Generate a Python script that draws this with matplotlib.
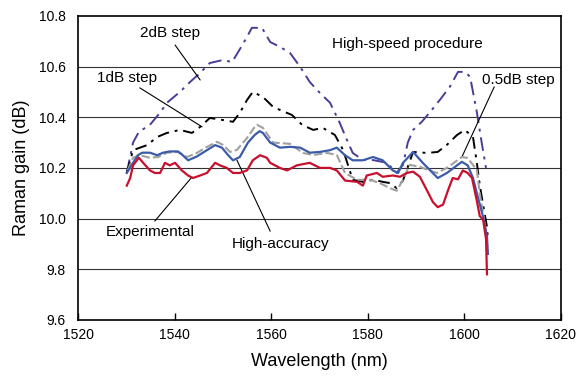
import matplotlib
matplotlib.use("Agg")
import matplotlib.pyplot as plt

plt.rcParams["font.family"] = ["Liberation Sans", "DejaVu Sans"]

# Experimental
EXP_WL = [1530.1, 1530.8, 1531.4, 1532.6, 1533.5, 1534.9, 1535.9, 1537.0, 1538.0, 1539.0,
          1540.1, 1541.5, 1542.8, 1543.8, 1545.3, 1546.7, 1548.4, 1549.4, 1550.8, 1552.1,
          1553.5, 1555.0, 1556.2, 1557.7, 1559.1, 1559.8, 1561.8, 1563.3, 1565.3, 1568.0,
          1570.1, 1572.2, 1573.6, 1575.3, 1577.8, 1579.0, 1579.8, 1581.9, 1583.1, 1585.2,
          1586.7, 1588.1, 1589.4, 1590.8, 1592.3, 1593.5, 1594.5, 1595.6, 1596.6, 1597.6,
          1598.7, 1599.7, 1600.7, 1601.6, 1602.6, 1603.2, 1603.9, 1604.5, 1604.7]
EXP_GAIN = [10.13, 10.16, 10.21, 10.24, 10.22, 10.19, 10.18, 10.18, 10.22, 10.21,
            10.22, 10.19, 10.17, 10.16, 10.17, 10.18, 10.22, 10.21, 10.20, 10.18,
            10.18, 10.19, 10.23, 10.25, 10.24, 10.22, 10.20, 10.19, 10.21, 10.22,
            10.20, 10.20, 10.19, 10.15, 10.145, 10.13, 10.17, 10.18, 10.165, 10.17,
            10.165, 10.18, 10.185, 10.165, 10.11, 10.065, 10.045, 10.055, 10.11, 10.16,
            10.155, 10.19, 10.18, 10.16, 10.07, 10.01, 9.995, 9.92, 9.78]

# High-accuracy
HA_WL = [1530.1, 1531.4, 1532.4, 1533.3, 1534.9, 1536.4, 1537.6, 1539.0, 1540.7, 1541.7,
         1542.8, 1544.6, 1546.7, 1548.4, 1549.8, 1551.1, 1552.1, 1553.5, 1555.2, 1556.6,
         1557.6, 1558.3, 1559.8, 1561.8, 1563.9, 1566.0, 1568.0, 1570.1, 1572.2, 1573.6,
         1575.3, 1576.9, 1579.0, 1581.1, 1583.1, 1585.2, 1586.3, 1587.3, 1589.4, 1591.4,
         1594.5, 1596.4, 1598.5, 1599.5, 1600.7, 1601.8, 1602.8, 1603.9, 1604.7, 1604.9]
HA_GAIN = [10.18, 10.22, 10.25, 10.26, 10.26, 10.25, 10.26, 10.265, 10.265, 10.25,
           10.23, 10.245, 10.27, 10.29, 10.28, 10.25, 10.23, 10.243, 10.30, 10.33,
           10.345, 10.338, 10.30, 10.28, 10.283, 10.28, 10.26, 10.263, 10.27, 10.28,
           10.25, 10.23, 10.23, 10.243, 10.23, 10.19, 10.18, 10.22, 10.263, 10.22,
           10.16, 10.18, 10.21, 10.224, 10.21, 10.16, 10.085, 10.006, 9.93, 9.86]

# 0.5dB step
S05_WL = [1530.3, 1531.4, 1532.8, 1534.9, 1536.6, 1538.4, 1540.7, 1542.6, 1544.6, 1546.7,
          1548.8, 1550.0, 1551.5, 1552.9, 1555.0, 1556.6, 1557.1, 1558.3, 1560.4, 1563.9,
          1566.6, 1568.7, 1571.6, 1573.6, 1575.3, 1577.8, 1580.5, 1582.5, 1584.6, 1586.0,
          1587.3, 1588.7, 1590.8, 1594.3, 1596.4, 1599.5, 1600.7, 1602.6, 1603.2, 1603.9,
          1604.7]
S05_GAIN = [10.19, 10.24, 10.25, 10.24, 10.243, 10.26, 10.263, 10.243, 10.259, 10.283,
            10.303, 10.291, 10.263, 10.271, 10.318, 10.362, 10.37, 10.358, 10.30, 10.295,
            10.259, 10.251, 10.259, 10.251, 10.18, 10.153, 10.153, 10.14, 10.12, 10.11,
            10.153, 10.212, 10.204, 10.18, 10.20, 10.243, 10.239, 10.192, 10.10, 10.02,
            9.916]

# 1dB step
S1_WL = [1530.1, 1531.4, 1534.3, 1536.4, 1538.4, 1541.1, 1543.6, 1545.3, 1547.3, 1550.0,
         1552.1, 1553.5, 1555.0, 1556.2, 1558.3, 1560.4, 1561.8, 1564.3, 1566.4, 1568.7,
         1570.7, 1573.2, 1574.9, 1576.9, 1579.0, 1581.1, 1583.1, 1584.6, 1586.0, 1587.3,
         1589.4, 1592.3, 1594.5, 1596.4, 1598.5, 1600.1, 1601.8, 1602.6, 1603.2, 1603.9,
         1604.7, 1604.9]
S1_GAIN = [10.18, 10.27, 10.29, 10.322, 10.338, 10.35, 10.338, 10.362, 10.397, 10.389,
           10.382, 10.417, 10.468, 10.50, 10.48, 10.441, 10.429, 10.409, 10.37, 10.35,
           10.358, 10.33, 10.271, 10.153, 10.145, 10.153, 10.145, 10.14, 10.12, 10.15,
           10.263, 10.259, 10.263, 10.291, 10.33, 10.35, 10.322, 10.22, 10.133, 10.054,
           9.967, 9.916]

# 2dB step
S2_WL = [1530.1, 1531.4, 1532.6, 1534.9, 1536.6, 1538.6, 1541.1, 1543.2, 1545.3, 1547.3,
         1550.0, 1551.9, 1553.5, 1555.0, 1556.0, 1558.1, 1559.8, 1561.8, 1563.9, 1566.0,
         1568.0, 1570.1, 1572.2, 1574.2, 1575.7, 1576.9, 1579.0, 1581.1, 1584.0, 1586.0,
         1587.3, 1588.3, 1589.4, 1591.2, 1592.9, 1595.0, 1597.0, 1598.7, 1600.1, 1601.2,
         1602.6, 1603.6, 1604.5]
S2_GAIN = [10.18, 10.30, 10.342, 10.37, 10.409, 10.46, 10.50, 10.539, 10.575, 10.614,
           10.626, 10.618, 10.668, 10.717, 10.753, 10.753, 10.697, 10.678, 10.654, 10.599,
           10.539, 10.496, 10.457, 10.378, 10.31, 10.259, 10.231, 10.231, 10.22, 10.18,
           10.212, 10.30, 10.35, 10.382, 10.42, 10.47, 10.52, 10.579, 10.579, 10.56,
           10.42, 10.30, 10.20]

X_TICKS = [1520, 1540, 1560, 1580, 1600, 1620]
Y_TICKS = [9.6, 9.8, 10.0, 10.2, 10.4, 10.6, 10.8]

fig = plt.figure(figsize=(5.8, 3.79), dpi=100)
ax = fig.add_axes([0.1345, 0.156, 0.8325, 0.802])

for y in Y_TICKS[1:-1]:
    ax.axhline(y, color="#333333", lw=0.8, zorder=1)

ax.plot(S2_WL, S2_GAIN, color="#4B3C96", lw=1.4, dashes=(7, 3, 1.5, 3), zorder=2)
ax.plot(S1_WL, S1_GAIN, color="black", lw=1.4, dashes=(6, 3, 1.5, 3), zorder=3)
ax.plot(S05_WL, S05_GAIN, color="#A0A0A0", lw=1.5, dashes=(4, 1.5), zorder=4)
ax.plot(HA_WL, HA_GAIN, color="#3C5CAA", lw=1.6, zorder=5)
ax.plot(EXP_WL, EXP_GAIN, color="#C8102E", lw=1.6, zorder=6)

ax.set_xlim(1520, 1620)
ax.set_ylim(9.6, 10.8)
ax.set_xticks(X_TICKS)
ax.set_yticks(Y_TICKS)
ax.set_yticklabels([f"{v:.1f}" for v in Y_TICKS])
ax.tick_params(axis="x", direction="in", length=5, width=1, pad=6, labelsize=10)
ax.tick_params(axis="y", length=0, pad=9, labelsize=10)
for s in ax.spines.values():
    s.set_linewidth(1.2)

ax.set_xlabel("Wavelength (nm)", fontsize=13, labelpad=8)
ax.set_ylabel("Raman gain (dB)", fontsize=13, labelpad=6)

line = dict(arrowstyle="-", color="black", lw=0.8, shrinkA=0, shrinkB=0)
ax.text(1539.0, 10.733, "2dB step", fontsize=11, ha="center", va="center")
ax.annotate("", xy=(1545.3, 10.547), xytext=(1540.1, 10.685), arrowprops=line)
ax.text(1530.1, 10.555, "1dB step", fontsize=11, ha="center", va="center")
ax.annotate("", xy=(1545.7, 10.362), xytext=(1532.8, 10.516), arrowprops=line)
ax.text(1588.3, 10.69, "High-speed procedure", fontsize=11, ha="center", va="center")
ax.text(1611.1, 10.547, "0.5dB step", fontsize=11, ha="center", va="center")
ax.annotate("", xy=(1599.5, 10.243), xytext=(1606.2, 10.52), arrowprops=line)
ax.text(1534.9, 9.945, "Experimental", fontsize=11, ha="center", va="center")
ax.annotate("", xy=(1543.6, 10.164), xytext=(1535.9, 9.99), arrowprops=line)
ax.text(1562.0, 9.90, "High-accuracy", fontsize=11, ha="center", va="center")
ax.annotate("", xy=(1552.9, 10.231), xytext=(1559.8, 9.95), arrowprops=line)

fig.savefig("out.png", dpi=100)
